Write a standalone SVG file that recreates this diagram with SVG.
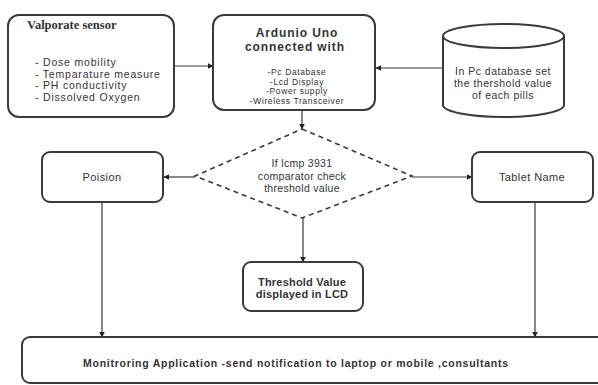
<svg xmlns="http://www.w3.org/2000/svg" width="598" height="385" viewBox="0 0 598 385">
<defs>
<style>
.box{fill:#fff;stroke:#3a3a3a;stroke-width:2}
.ln{fill:none;stroke:#3a3a3a;stroke-width:1.2}
.dash{fill:#fff;stroke:#3a3a3a;stroke-width:1.6;stroke-dasharray:5,4}
.t{font-family:"Liberation Sans",Arial,sans-serif;fill:#333;text-anchor:middle}
.tl{font-family:"Liberation Sans",Arial,sans-serif;fill:#333}
.li{font-size:10.5px;letter-spacing:0.8px}
.hd{font-size:12px;font-weight:bold;letter-spacing:0.9px}
.sm{font-size:8.5px;letter-spacing:0.6px}
</style>
<marker id="ah" viewBox="0 0 10 10" refX="9" refY="5" markerWidth="6" markerHeight="6" orient="auto" markerUnits="userSpaceOnUse">
<path d="M0,0 L10,5 L0,10 Z" fill="#222"/>
</marker>
</defs>
<rect width="598" height="385" fill="#fff"/>

<g id="connectors">
<line class="ln" x1="174" y1="66" x2="213" y2="66" marker-end="url(#ah)"/>
<line class="ln" x1="443" y1="68" x2="376" y2="68" marker-end="url(#ah)"/>
<line class="ln" x1="302" y1="110" x2="302" y2="129" marker-end="url(#ah)"/>
<line class="ln" x1="195" y1="177" x2="164" y2="177" marker-end="url(#ah)"/>
<line class="ln" x1="412" y1="177" x2="472" y2="177" marker-end="url(#ah)"/>
<line class="ln" x1="303" y1="218" x2="303" y2="262" marker-end="url(#ah)"/>
<line class="ln" x1="102" y1="202" x2="102" y2="337" marker-end="url(#ah)"/>
<line class="ln" x1="535" y1="202" x2="535" y2="337" marker-end="url(#ah)"/>
</g>

<g id="sensor">
<rect class="box" x="8" y="15" width="166" height="102" rx="11"/>
<text x="27" y="29" style="font-family:'Liberation Serif','Times New Roman',serif;font-weight:bold;font-size:12.5px;fill:#333">Valporate sensor</text>
<text class="tl li" x="35" y="66">- Dose mobility</text>
<text class="tl li" x="35" y="77.7">- Temparature measure</text>
<text class="tl li" x="35" y="89.4">- PH conductivity</text>
<text class="tl li" x="35" y="101.1">- Dissolved Oxygen</text>
</g>

<g id="arduino">
<rect class="box" x="213" y="15" width="162" height="95" rx="11"/>
<text class="t hd" x="297" y="37">Ardunio Uno</text>
<text class="t hd" x="295" y="51">connected with</text>
<text class="t sm" x="297" y="75">-Pc Database</text>
<text class="t sm" x="297" y="84.5">-Lcd Display</text>
<text class="t sm" x="297" y="94">-Power supply</text>
<text class="t sm" x="297" y="103.5">-Wireless Transceiver</text>
</g>

<g id="database">
<path class="box" d="M443,36 L443,105 A60.5,12 0 0 0 564,105 L564,36"/>
<ellipse class="box" cx="503.5" cy="36" rx="60.5" ry="12"/>
<text class="t" x="503" y="75" font-size="10.5" letter-spacing="0.5">In Pc database set</text>
<text class="t" x="503" y="87" font-size="10.5" letter-spacing="0.5">the thershold value</text>
<text class="t" x="503" y="99" font-size="10.5" letter-spacing="0.5">of each pills</text>
</g>

<g id="comparator">
<polygon class="dash" points="302,129 412,176 302,218 195,176"/>
<text class="t" x="302" y="167" font-size="10.5" letter-spacing="0.3">If lcmp 3931</text>
<text class="t" x="302" y="179.5" font-size="10.5" letter-spacing="0.3">comparator check</text>
<text class="t" x="302" y="192" font-size="10.5" letter-spacing="0.3">threshold value</text>
</g>

<g id="poision">
<rect class="box" x="42" y="152" width="121" height="50" rx="8"/>
<text class="t" x="102" y="181" font-size="11" letter-spacing="0.4">Poision</text>
</g>

<g id="tablet">
<rect class="box" x="472" y="152" width="121" height="50" rx="8"/>
<text class="t" x="532" y="181" font-size="11" letter-spacing="0.4">Tablet Name</text>
</g>

<g id="threshold">
<rect class="box" x="243" y="262" width="120" height="49" rx="8"/>
<text class="t" x="302" y="286" font-size="11" font-weight="bold" letter-spacing="0.2">Threshold Value</text>
<text class="t" x="302" y="298" font-size="11" font-weight="bold" letter-spacing="0.2">displayed in LCD</text>
</g>

<g id="monitoring">
<rect class="box" x="22" y="337" width="590" height="46" rx="8"/>
<text class="tl" x="83" y="367" font-size="10.5" font-weight="bold" textLength="425" lengthAdjust="spacing">Monitroring Application -send notification to laptop or mobile ,consultants</text>
</g>
</svg>
